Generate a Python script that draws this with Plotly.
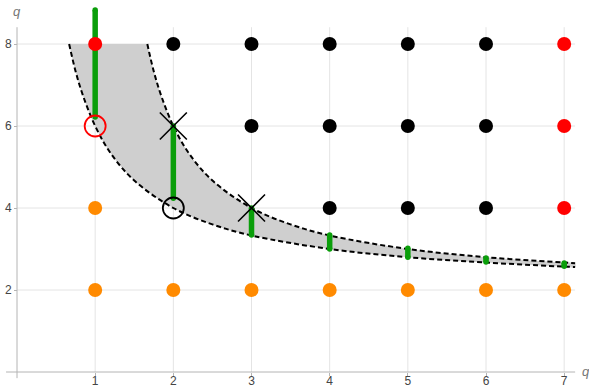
import plotly.graph_objects as go

# Lattice points (p, q) grouped by marker style
red_p = [1, 7, 7, 7]
red_q = [8, 8, 6, 4]
black_p = [2, 3, 4, 5, 6, 3, 4, 5, 6, 4, 5, 6]
black_q = [8, 8, 8, 8, 8, 6, 6, 6, 6, 4, 4, 4]
orange_p = [1, 1, 2, 3, 4, 5, 6, 7]
orange_q = [4, 2, 2, 2, 2, 2, 2, 2]

# Open circles and crosses
ring_red = (1, 6)
ring_black = (2, 4)
cross_p = [2, 3]
cross_q = [6, 4]

# Green vertical segments at each integer p
bar_p = [1, 2, 3, 4, 5, 6, 7]
bar_lo = [6.22, 4.24, 3.34, 3.0, 2.8, 2.68, 2.58]
bar_hi = [8.83, 6.0, 4.0, 3.34, 3.02, 2.78, 2.66]

# Boundary curves of the shaded band
lower_p = [0.667, 0.75, 0.85, 1.0, 1.2, 1.5, 2.0, 2.5, 3.0, 4.0, 5.0, 6.0, 7.0, 7.14]
lower_q = [8.0, 7.33, 6.71, 6.0, 5.33, 4.67, 4.0, 3.6, 3.33, 3.0, 2.8, 2.67, 2.57, 2.56]
upper_p = [1.667, 1.75, 1.85, 2.0, 2.2, 2.5, 3.0, 3.5, 4.0, 5.0, 6.0, 7.0, 7.14]
upper_q = [8.0, 7.33, 6.71, 6.0, 5.33, 4.67, 4.0, 3.6, 3.33, 3.0, 2.8, 2.67, 2.65]

x_ticks = [1, 2, 3, 4, 5, 6, 7]
y_ticks = [2, 4, 6, 8]

AXIS_TOP = 8.41
AXIS_RIGHT = 7.14

GREEN = "#0a9e0a"
ORANGE = "#ff8a00"
GRID = "#e4e4e4"
AXIS = "#b4b4b4"

fig = go.Figure()

# light grid
shapes = []
for p in x_ticks:
    shapes.append(dict(type="line", xref="x", yref="y", x0=p, x1=p, y0=0, y1=AXIS_TOP,
                       line=dict(color=GRID, width=1), layer="below"))
for q in y_ticks:
    shapes.append(dict(type="line", xref="x", yref="y", x0=0, x1=AXIS_RIGHT, y0=q, y1=q,
                       line=dict(color=GRID, width=1), layer="below"))
# axes lines
shapes.append(dict(type="line", xref="x", yref="y", x0=-0.14, x1=AXIS_RIGHT, y0=0, y1=0,
                   line=dict(color=AXIS, width=1), layer="below"))
shapes.append(dict(type="line", xref="x", yref="y", x0=0, x1=0, y0=-0.15, y1=AXIS_TOP,
                   line=dict(color=AXIS, width=1), layer="below"))

# shaded band
band_p = upper_p + lower_p[::-1]
band_q = upper_q + lower_q[::-1]
fig.add_trace(go.Scatter(x=band_p, y=band_q, mode="lines", fill="toself",
                         fillcolor="#cfcfcf", line=dict(width=0, shape="spline"),
                         hoverinfo="skip"))

# dashed boundaries
for px_, qy_ in ((lower_p, lower_q), (upper_p, upper_q)):
    fig.add_trace(go.Scatter(x=px_, y=qy_, mode="lines",
                             line=dict(color="black", width=2, dash="5px,3px", shape="spline")))

# green segments
for p, lo, hi in zip(bar_p, bar_lo, bar_hi):
    fig.add_trace(go.Scatter(x=[p, p], y=[lo, hi], mode="lines+markers",
                             line=dict(color=GREEN, width=5.5),
                             marker=dict(color=GREEN, size=5.5, line=dict(width=0))))

# dots
for xs, ys, col in ((orange_p, orange_q, ORANGE), (black_p, black_q, "black"), (red_p, red_q, "#ff0000")):
    fig.add_trace(go.Scatter(x=xs, y=ys, mode="markers",
                             marker=dict(color=col, size=14, line=dict(width=0))))

# open rings
fig.add_trace(go.Scatter(x=[ring_red[0]], y=[ring_red[1]], mode="markers",
                         marker=dict(symbol="circle-open", size=21, color="#ff0000",
                                     line=dict(width=1.8, color="#ff0000"))))
fig.add_trace(go.Scatter(x=[ring_black[0]], y=[ring_black[1]], mode="markers",
                         marker=dict(symbol="circle-open", size=21, color="black",
                                     line=dict(width=1.8, color="black"))))

# crosses
fig.add_trace(go.Scatter(x=cross_p, y=cross_q, mode="markers",
                         marker=dict(symbol="x-thin-open", size=27, color="black",
                                     line=dict(width=1.6, color="black"))))

fig.update_layout(
    width=589, height=387,
    margin=dict(l=0, r=0, t=0, b=0, pad=0, autoexpand=False),
    plot_bgcolor="white", paper_bgcolor="white",
    showlegend=False,
    font=dict(family="Liberation Sans, Arial, sans-serif", size=12, color="#444"),
    shapes=shapes,
    xaxis=dict(range=[-0.2175, 7.3175], anchor="free", position=15 / 387,
               tickvals=x_ticks, ticktext=[str(v) for v in x_ticks],
               ticks="outside", ticklen=3, tickcolor=AXIS, ticklabelstandoff=-5,
               automargin=False,
               showgrid=False, zeroline=False, showline=False),
    yaxis=dict(range=[-0.3659, 9.0732], anchor="free", position=17 / 589,
               tickvals=y_ticks, ticktext=[str(v) for v in y_ticks],
               ticks="outside", ticklen=3, tickcolor=AXIS,
               automargin=False,
               showgrid=False, zeroline=False, showline=False),
    annotations=[
        dict(x=0, y=8.8, xref="x", yref="y", text="<i>q</i>", showarrow=False,
             font=dict(size=13, color="#777")),
        dict(x=7.2, y=0.02, xref="x", yref="y", text="<i>q</i>", showarrow=False,
             xanchor="left", font=dict(size=13, color="#777")),
    ],
)

fig.write_html("out.html")
